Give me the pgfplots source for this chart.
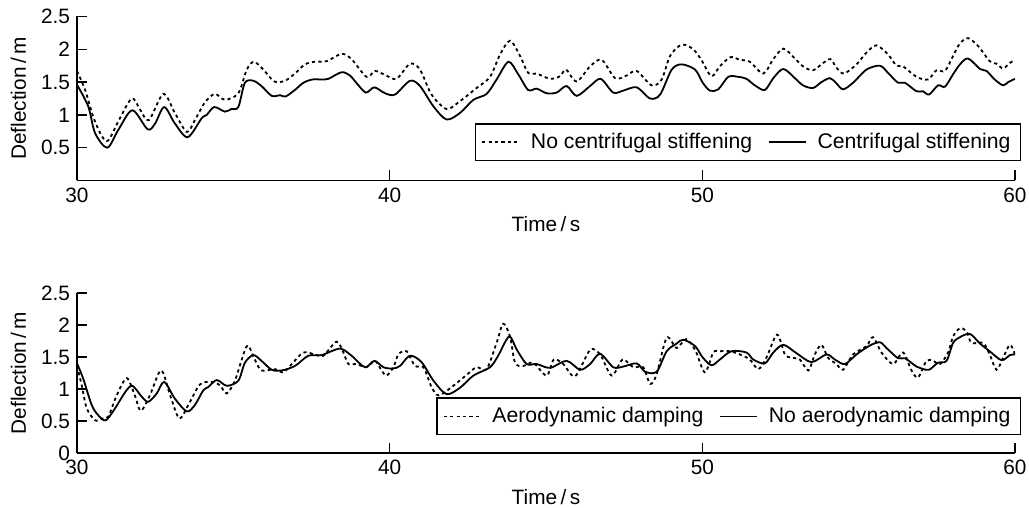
\documentclass[border=0pt]{standalone}
\usepackage{fontspec}
\setmainfont{Liberation Sans}
\usepackage{pgfplots}
\pgfplotsset{compat=1.18}

\newcommand{\lfont}{\fontsize{10.4}{12}\selectfont}
\newcommand{\gfont}{\fontsize{10.6}{12.5}\selectfont}

\pgfplotsset{
  defl/.style={
    scale only axis, width=469pt,
    xmin=30, xmax=60, ymin=0, ymax=2.5,
    axis lines=left,
    axis line style={-, line width=0.8pt},
    xtick={30,40,50,60},
    xtick pos=left, ytick pos=left, tick align=inside,
    major tick length=5pt,
    tick style={black, line width=0.7pt},
    tick label style={font=\lfont},
    /pgf/number format/assume math mode=true,
    every axis x label/.style={at={(axis description cs:0.5,#1)}, anchor=center, font=\lfont},
    every axis y label/.style={at={(axis description cs:-0.0624,0.5)}, rotate=90, anchor=center, font=\lfont},
    xlabel={Time\,/\,s}, ylabel={Deflection\,/\,m},
    legend columns=2,
    legend image code/.code={\draw[##1, line width=0.7pt] (0pt,0pt) -- (18.5pt,0pt);},
    legend style={draw=black, line width=0.6pt, fill=white, font=\gfont,
      anchor=south east, inner xsep=3pt, inner ysep=2.5pt,
      /tikz/every odd column/.append style={column sep=3.5pt},
      /tikz/every even column/.append style={column sep=6pt}},
  },
  dots/.style={black, line width=0.9pt, dash pattern=on 1.6pt off 1.6pt, smooth, no marks},
  full/.style={black, line width=0.9pt, smooth, no marks},
}

\begin{document}
\begin{tikzpicture}
\useasboundingbox (0,0) rectangle (514.5pt,254pt);

% top: centrifugal stiffening
\begin{axis}[defl=-0.265,
    at={(38.5pt,163.75pt)}, anchor=south west, height=82pt,
    ytick={0.5,1,1.5,2,2.5},
    legend style={at={(1.0064,0.119)}},
  ]
  \addplot[dots] coordinates {
    (30,1.67) (30.26,1.38) (30.52,0.97) (30.79,0.68) (31.0,0.61) (31.32,0.90) (31.75,1.25) (32.02,1.08)
    (32.3,0.92) (32.76,1.32) (33.13,1.03) (33.51,0.74) (33.77,0.92) (34.09,1.19) (34.41,1.32) (34.73,1.23)
    (35.16,1.33) (35.43,1.69) (35.66,1.81) (35.96,1.69) (36.31,1.51) (36.65,1.52) (36.97,1.63) (37.29,1.77)
    (37.61,1.81) (37.99,1.82) (38.46,1.93) (38.78,1.85) (39.26,1.58) (39.53,1.67) (39.85,1.61) (40.22,1.55)
    (40.65,1.78) (40.97,1.69) (41.34,1.31) (41.82,1.09) (42.25,1.21) (42.78,1.41) (43.21,1.58) (43.53,1.92)
    (43.85,2.13) (44.17,1.90) (44.43,1.64) (44.7,1.63) (45.13,1.55) (45.45,1.59) (45.64,1.69) (45.98,1.51)
    (46.41,1.74) (46.78,1.84) (47.21,1.56) (47.58,1.60) (47.9,1.67) (48.38,1.45) (48.7,1.54) (48.97,1.90)
    (49.34,2.07) (49.71,2.00) (49.98,1.83) (50.29,1.59) (50.56,1.74) (50.9,1.88) (51.2,1.84) (51.52,1.81)
    (51.95,1.63) (52.27,1.85) (52.59,2.01) (52.96,1.86) (53.22,1.74) (53.54,1.68) (53.86,1.79) (54.1,1.85)
    (54.29,1.72) (54.53,1.63) (54.93,1.77) (55.25,1.95) (55.57,2.06) (55.94,1.92) (56.21,1.75) (56.42,1.74)
    (56.85,1.58) (57.22,1.54) (57.49,1.68) (57.76,1.67) (58.02,1.90) (58.24,2.09) (58.5,2.17) (58.82,2.05)
    (59.19,1.82) (59.41,1.78) (59.62,1.71) (59.89,1.81) (60,1.81)
  };
  \addlegendentry{No centrifugal stiffening}
  \addplot[full] coordinates {
    (30,1.46) (30.36,1.13) (30.58,0.72) (30.97,0.50) (31.32,0.77) (31.77,1.07) (32.26,0.78) (32.5,0.87)
    (32.79,1.12) (33.13,0.87) (33.54,0.66) (33.99,0.95) (34.15,1.0) (34.39,1.12) (34.73,1.05) (34.94,1.09)
    (35.16,1.12) (35.37,1.49) (35.64,1.52) (35.9,1.44) (36.23,1.29) (36.5,1.30) (36.67,1.28) (36.97,1.38)
    (37.24,1.49) (37.53,1.54) (37.82,1.54) (38.04,1.55) (38.46,1.65) (38.73,1.60) (38.95,1.48) (39.24,1.34)
    (39.51,1.42) (39.85,1.33) (40.17,1.31) (40.65,1.52) (40.97,1.44) (41.4,1.13) (41.82,0.93) (42.25,1.03)
    (42.68,1.23) (43.1,1.32) (43.42,1.54) (43.8,1.81) (44.11,1.62) (44.43,1.38) (44.7,1.40) (45.02,1.33)
    (45.34,1.34) (45.66,1.44) (45.98,1.29) (46.41,1.44) (46.75,1.55) (47.15,1.34) (47.47,1.37) (47.9,1.42)
    (48.33,1.25) (48.65,1.31) (49.02,1.69) (49.34,1.77) (49.77,1.69) (50.0,1.50) (50.24,1.37) (50.51,1.39)
    (50.83,1.58) (51.15,1.58) (51.41,1.55) (51.68,1.45) (52.0,1.38) (52.27,1.56) (52.59,1.70) (52.96,1.56)
    (53.22,1.45) (53.54,1.41) (53.81,1.50) (54.08,1.56) (54.27,1.49) (54.5,1.39) (54.82,1.49) (55.25,1.69)
    (55.68,1.75) (55.94,1.64) (56.26,1.49) (56.48,1.49) (56.85,1.36) (57.06,1.36) (57.25,1.31) (57.54,1.45)
    (57.76,1.43) (58.02,1.62) (58.24,1.77) (58.5,1.86) (58.88,1.70) (59.09,1.67) (59.35,1.54) (59.62,1.45)
    (59.78,1.50) (60,1.55)
  };
  \addlegendentry{Centrifugal stiffening}
\end{axis}

% bottom: aerodynamic damping
\begin{axis}[defl=-0.275,
    at={(38.5pt,27.5pt)}, anchor=south west, height=80pt,
    ytick={0,0.5,1,1.5,2,2.5},
    legend style={at={(1.0064,0.1125)}},
  ]
  \addplot[dots] coordinates {
    (30,1.36) (30.15,1.06) (30.31,0.70) (30.58,0.51) (30.79,0.54) (31.0,0.57) (31.27,0.90) (31.59,1.17)
    (31.85,0.90) (32.04,0.66) (32.33,0.90) (32.69,1.29) (32.98,0.90) (33.27,0.54) (33.56,0.75) (33.93,1.07)
    (34.31,1.11) (34.57,1.06) (34.79,0.93) (35.05,1.13) (35.27,1.46) (35.46,1.68) (35.69,1.46) (35.9,1.29)
    (36.33,1.31) (36.6,1.26) (36.87,1.39) (37.24,1.57) (37.61,1.54) (37.88,1.52) (38.3,1.74) (38.52,1.57)
    (38.68,1.39) (38.94,1.39) (39.26,1.34) (39.53,1.44) (39.74,1.29) (39.9,1.21) (40.12,1.34) (40.28,1.54)
    (40.54,1.59) (40.81,1.36) (41.08,1.34) (41.34,1.03) (41.56,0.90) (41.93,1.01) (42.46,1.22) (42.78,1.34)
    (43.1,1.31) (43.42,1.72) (43.63,2.02) (43.85,1.82) (44.01,1.41) (44.27,1.36) (44.59,1.41) (45.02,1.21)
    (45.25,1.46) (45.55,1.39) (45.93,1.20) (46.41,1.61) (46.73,1.54) (47.1,1.21) (47.45,1.46) (47.79,1.34)
    (48.11,1.34) (48.33,1.08) (48.54,1.23) (48.86,1.80) (49.18,1.64) (49.48,1.78) (49.78,1.60) (50.08,1.26)
    (50.35,1.57) (50.56,1.59) (50.88,1.59) (51.2,1.54) (51.52,1.46) (51.79,1.31) (52.05,1.49) (52.39,1.85)
    (52.64,1.54) (52.85,1.49) (53.12,1.46) (53.39,1.29) (53.6,1.54) (53.81,1.69) (54.02,1.49) (54.29,1.39)
    (54.5,1.30) (54.82,1.54) (55.25,1.67) (55.46,1.81) (55.73,1.57) (56.1,1.39) (56.42,1.57) (56.69,1.29)
    (56.9,1.18) (57.17,1.44) (57.38,1.44) (57.6,1.39) (57.86,1.57) (58.02,1.82) (58.24,1.95) (58.45,1.90)
    (58.61,1.72) (58.98,1.72) (59.19,1.54) (59.41,1.30) (59.62,1.49) (59.84,1.69) (60,1.54)
  };
  \addlegendentry{Aerodynamic damping}
  \addplot[full] coordinates {
    (30,1.40) (30.2,1.16) (30.47,0.75) (30.68,0.59) (30.92,0.51) (31.22,0.70) (31.54,0.95) (31.77,1.05)
    (32.07,0.88) (32.28,0.80) (32.55,0.93) (32.79,1.11) (33.13,0.85) (33.51,0.65) (33.77,0.75) (34.04,0.98)
    (34.2,1.03) (34.47,1.14) (34.79,1.05) (35.16,1.13) (35.37,1.41) (35.64,1.53) (35.9,1.44) (36.23,1.30)
    (36.55,1.29) (36.97,1.36) (37.4,1.52) (37.82,1.53) (38.41,1.63) (38.78,1.52) (39.21,1.34) (39.51,1.44)
    (39.8,1.34) (40.1,1.32) (40.33,1.36) (40.65,1.52) (41.02,1.42) (41.4,1.13) (41.82,0.92) (42.25,1.02)
    (42.68,1.21) (43.21,1.34) (43.47,1.52) (43.82,1.82) (44.06,1.62) (44.38,1.39) (44.7,1.39) (45.13,1.33)
    (45.66,1.44) (46.09,1.30) (46.41,1.39) (46.73,1.55) (47.15,1.34) (47.47,1.35) (47.9,1.40) (48.17,1.27)
    (48.54,1.27) (48.86,1.59) (49.18,1.71) (49.39,1.77) (49.77,1.67) (50.0,1.50) (50.29,1.37) (50.56,1.46)
    (50.93,1.59) (51.41,1.57) (51.63,1.46) (52.0,1.40) (52.27,1.57) (52.59,1.69) (53.01,1.56) (53.49,1.42)
    (53.97,1.54) (54.24,1.46) (54.56,1.39) (54.93,1.54) (55.36,1.68) (55.68,1.73) (55.89,1.64) (56.26,1.48)
    (56.48,1.48) (56.85,1.35) (57.01,1.32) (57.25,1.30) (57.54,1.41) (57.81,1.44) (58.02,1.72) (58.24,1.81)
    (58.56,1.86) (58.88,1.71) (59.19,1.59) (59.57,1.45) (59.84,1.53) (60,1.54)
  };
  \addlegendentry{No aerodynamic damping}
\end{axis}
\end{tikzpicture}
\end{document}
